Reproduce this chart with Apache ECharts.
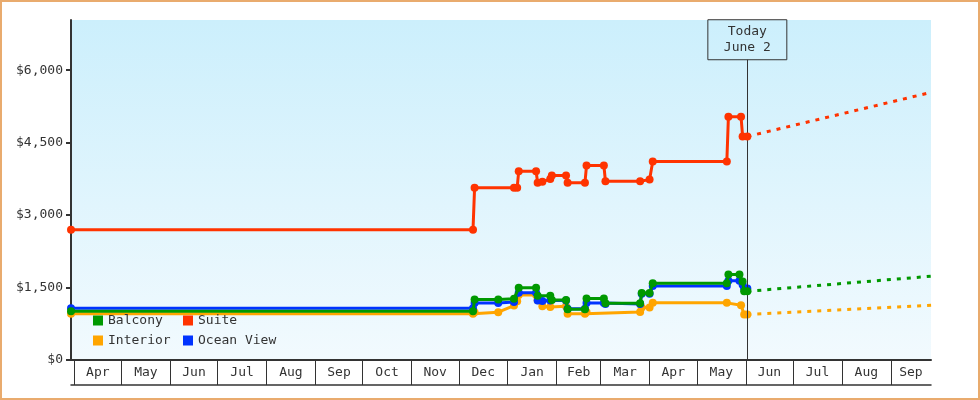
<!DOCTYPE html>
<html><head><meta charset="utf-8">
<script src="https://cdn.jsdelivr.net/npm/echarts@6/dist/echarts.min.js"></script>
<style>
html,body{margin:0;padding:0;background:#fff}
#wrap{position:relative;width:980px;height:400px}
#c{width:980px;height:400px}
#frame{position:absolute;left:0;top:0;width:980px;height:400px;box-sizing:border-box;border:2px solid #E9AB6E;pointer-events:none}
</style>
</head><body><div id="wrap"><div id="c"></div><div id="frame"></div></div>
<script>
// ---- data ----
const monthNames = ['Jan','Feb','Mar','Apr','May','Jun','Jul','Aug','Sep','Oct','Nov','Dec'];
const yTicks = [0, 1500, 3000, 4500, 6000];
const axisStart = '2022-03-30';
const axisEnd = '2023-09-26';
const today = '2023-06-02';
const todayLabel = 'Today\nJune 2';

const suite = [
  ['2022-03-30', 2699], ['2022-12-10', 2699], ['2022-12-11', 3569], ['2023-01-05', 3569],
  ['2023-01-07', 3569], ['2023-01-08', 3909], ['2023-01-19', 3909], ['2023-01-20', 3669],
  ['2023-01-23', 3689], ['2023-01-28', 3749], ['2023-01-29', 3819], ['2023-02-07', 3819],
  ['2023-02-08', 3669], ['2023-02-19', 3669], ['2023-02-20', 4029], ['2023-03-03', 4029],
  ['2023-03-04', 3699], ['2023-03-26', 3699], ['2023-04-01', 3739], ['2023-04-03', 4109],
  ['2023-05-20', 4109], ['2023-05-21', 5039], ['2023-05-29', 5039], ['2023-05-30', 4629],
  ['2023-06-02', 4629]
];
const balcony = [
  ['2022-03-30', 1010], ['2022-12-10', 1010], ['2022-12-11', 1252], ['2022-12-26', 1252],
  ['2023-01-05', 1270], ['2023-01-08', 1494], ['2023-01-19', 1494], ['2023-01-20', 1328],
  ['2023-01-28', 1328], ['2023-01-29', 1241], ['2023-02-07', 1241], ['2023-02-08', 1051],
  ['2023-02-19', 1051], ['2023-02-20', 1272], ['2023-03-03', 1272], ['2023-03-04', 1173],
  ['2023-03-26', 1173], ['2023-03-27', 1386], ['2023-04-01', 1386], ['2023-04-03', 1590],
  ['2023-05-20', 1590], ['2023-05-21', 1769], ['2023-05-28', 1769], ['2023-05-30', 1624],
  ['2023-05-31', 1423], ['2023-06-02', 1423]
];
const interior = [
  ['2022-03-30', 956], ['2022-12-10', 956], ['2022-12-11', 989], ['2022-12-26', 989],
  ['2023-01-05', 1128], ['2023-01-07', 1215], ['2023-01-08', 1345], ['2023-01-19', 1345],
  ['2023-01-20', 1237], ['2023-01-23', 1113], ['2023-01-28', 1096], ['2023-02-07', 1113],
  ['2023-02-08', 956], ['2023-02-19', 956], ['2023-02-20', 993], ['2023-03-26', 993],
  ['2023-03-27', 1086], ['2023-04-01', 1086], ['2023-04-03', 1183], ['2023-05-20', 1183],
  ['2023-05-29', 1134], ['2023-05-31', 941], ['2023-06-02', 941]
];
const oceanView = [
  ['2022-03-30', 1070], ['2022-12-10', 1070], ['2022-12-11', 1180], ['2022-12-26', 1180],
  ['2023-01-05', 1200], ['2023-01-08', 1390], ['2023-01-19', 1390], ['2023-01-20', 1230],
  ['2023-01-23', 1220], ['2023-01-28', 1230], ['2023-02-07', 1230], ['2023-02-08', 1060],
  ['2023-02-19', 1060], ['2023-02-20', 1180], ['2023-03-03', 1180], ['2023-03-04', 1160],
  ['2023-03-26', 1160], ['2023-03-27', 1370], ['2023-04-01', 1370], ['2023-04-03', 1530],
  ['2023-05-20', 1530], ['2023-05-21', 1640], ['2023-05-28', 1640], ['2023-05-30', 1560],
  ['2023-05-31', 1480], ['2023-06-02', 1480]
];
const suiteForecast = [['2023-06-02', 4629], ['2023-09-27', 5545]];
const balconyForecast = [['2023-06-02', 1423], ['2023-09-27', 1736]];
const interiorForecast = [['2023-06-02', 941], ['2023-09-27', 1135]];

// ---- helpers ----
function ts(s) { const p = s.split('-').map(Number); return new Date(p[0], p[1] - 1, p[2]).getTime(); }
function toXY(arr) { return arr.map(([d, v]) => [ts(d), v]); }
const xMin = ts(axisStart);
const xMax = ts(axisEnd) + 12 * 3600 * 1000;
const monthStarts = [];
for (let y = 2022, m = 3; y < 2023 || m <= 8; ) {
  monthStarts.push(new Date(y, m, 1).getTime());
  m++; if (m > 11) { m = 0; y++; }
}
const monthMids = monthStarts.map((s, i) => {
  const e = i + 1 < monthStarts.length ? monthStarts[i + 1] : xMax;
  return (s + e) / 2;
});
const FONT = '"DejaVu Sans Mono", monospace';
const C = { Suite: '#FF3300', Balcony: '#009900', Interior: '#FFA500', 'Ocean View': '#0033FF' };

function line(name, data, z) {
  return {
    name, type: 'line', data: toXY(data), z, color: C[name],
    symbol: 'circle', symbolSize: 8, showSymbol: true,
    lineStyle: { width: 3, color: C[name] },
    itemStyle: { color: C[name] },
    emphasis: { disabled: true }
  };
}
function forecast(name, data, z) {
  return {
    name: name + ' forecast', type: 'line', data: toXY(data), z,
    showSymbol: false, symbol: 'none',
    lineStyle: { width: 3, color: C[name], type: [4, 6] },
    emphasis: { disabled: true }
  };
}

const chart = echarts.init(document.getElementById('c'));
const suiteSeries = line('Suite', suite, 6);
suiteSeries.markLine = {
  silent: true, symbol: 'none', animation: false,
  lineStyle: { color: '#333', width: 1, type: 'solid' },
  label: {
    show: true, position: 'end', distance: 0, formatter: todayLabel,
    color: '#333', fontFamily: FONT, fontSize: 13, lineHeight: 16,
    borderColor: '#333', borderWidth: 1, padding: [4, 16]
  },
  data: [[{ coord: [ts(today), 0] }, { coord: [ts(today), 6217] }]]
};

const legendCommon = {
  orient: 'vertical', top: 314, padding: 0,
  itemWidth: 10, itemHeight: 10, itemGap: 7, icon: 'rect',
  textStyle: { fontFamily: FONT, fontSize: 13, color: '#333' }
};

chart.setOption({
  animation: false,
  backgroundColor: '#fff',
  grid: {
    left: 71, top: 20, width: 860, height: 340, show: true, borderWidth: 0,
    backgroundColor: new echarts.graphic.LinearGradient(0, 0, 0, 1, [
      { offset: 0, color: '#CCEFFC' }, { offset: 1, color: '#F2FAFE' }
    ])
  },
  legend: [
    Object.assign({ data: ['Balcony', 'Interior'], left: 93 }, legendCommon),
    Object.assign({ data: ['Suite', 'Ocean View'], left: 183 }, legendCommon)
  ],
  xAxis: [
    {
      type: 'value', min: xMin, max: xMax, scale: true,
      axisLine: { show: true, lineStyle: { color: '#333', width: 2 } },
      axisTick: { show: true, customValues: monthStarts, length: 25, lineStyle: { color: '#333', width: 1 } },
      axisLabel: {
        show: true, customValues: monthMids, margin: 6,
        formatter: v => monthNames[new Date(v).getMonth()],
        fontFamily: FONT, fontSize: 13, color: '#333'
      },
      splitLine: { show: false }
    },
    {
      type: 'value', min: xMin, max: xMax, scale: true, position: 'bottom', offset: 25,
      axisLine: { show: true, lineStyle: { color: '#333', width: 1.5 } },
      axisTick: { show: false }, axisLabel: { show: false }, splitLine: { show: false }
    }
  ],
  yAxis: {
    type: 'value', min: 0, max: 7040,
    axisLine: { show: true, lineStyle: { color: '#333', width: 2 } },
    axisTick: { show: true, customValues: yTicks, length: 5, lineStyle: { color: '#333', width: 2 } },
    axisLabel: {
      customValues: yTicks, margin: 8,
      formatter: v => '$' + Number(v).toLocaleString('en-US'),
      fontFamily: FONT, fontSize: 13, color: '#333'
    },
    splitLine: { show: false }
  },
  series: [
    forecast('Interior', interiorForecast, 1),
    forecast('Balcony', balconyForecast, 1),
    forecast('Suite', suiteForecast, 1),
    line('Interior', interior, 3),
    line('Ocean View', oceanView, 4),
    line('Balcony', balcony, 5),
    suiteSeries
  ]
});
</script></body></html>
